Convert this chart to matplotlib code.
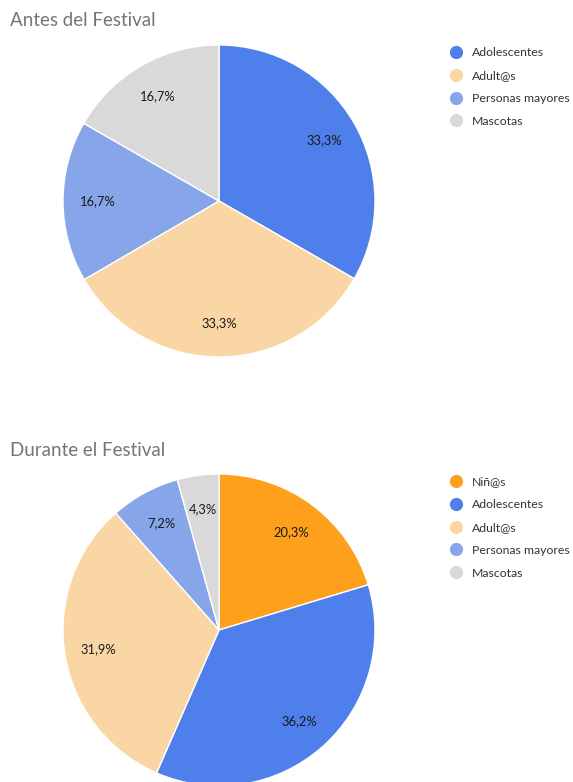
import matplotlib
matplotlib.use("Agg")
import matplotlib.pyplot as plt
from matplotlib.lines import Line2D

plt.rcParams['font.family'] = ['Lato', 'DejaVu Sans']

# data
cats_antes = ['Adolescentes', 'Adult@s', 'Personas mayores', 'Mascotas']
vals_antes = [33.3, 33.3, 16.7, 16.7]
cats_durante = ['Niñ@s', 'Adolescentes', 'Adult@s', 'Personas mayores', 'Mascotas']
vals_durante = [20.3, 36.2, 31.9, 7.2, 4.3]

colors = {
    'Niñ@s': '#FFA01C',
    'Adolescentes': '#4E7FEA',
    'Adult@s': '#FBD6A5',
    'Personas mayores': '#87A6EA',
    'Mascotas': '#D9D9D9',
}

W, H = 573, 782
fig = plt.figure(figsize=(W / 100, H / 100), dpi=100)


def px_axes(cx, cy, r):
    # axes in pixel coords (origin top-left)
    return fig.add_axes([(cx - r) / W, 1 - (cy + r) / H, 2 * r / W, 2 * r / H])


def fmt(p):
    return f'{p:.1f}'.replace('.', ',') + '%'


def draw(cats, vals, cy, title, title_y, leg_y):
    ax = px_axes(219, cy, 156)
    wedges, _, autotexts = ax.pie(
        vals, colors=[colors[c] for c in cats], startangle=90, counterclock=False,
        autopct=fmt, pctdistance=0.78, radius=1,
        wedgeprops=dict(edgecolor='white', linewidth=1),
        textprops=dict(fontsize=9.3, color='#1a1a1a'))
    for w in wedges:
        w.set_clip_on(False)
    ax.set_xlim(-1, 1)
    ax.set_ylim(-1, 1)
    ax.set_aspect('equal')
    ax.axis('off')
    fig.text(10 / W, 1 - title_y / H, title, fontsize=13.5, color='#757575',
             va='center', ha='left')
    handles = [Line2D([], [], marker='o', linestyle='none', markersize=8.5,
                      markerfacecolor=colors[c], markeredgecolor=colors[c])
               for c in cats]
    leg = fig.legend(handles, cats, loc='upper left',
                     bbox_to_anchor=(441 / W, 1 - leg_y / H), frameon=False,
                     fontsize=8.8, labelspacing=0.97, handletextpad=0.55,
                     handlelength=1.5, borderpad=0)
    for t in leg.get_texts():
        t.set_color('#333333')


draw(cats_antes, vals_antes, 201, 'Antes del Festival', 20, 41)
draw(cats_durante, vals_durante, 630, 'Durante el Festival', 450, 470)

fig.savefig('out.png', dpi=100)
